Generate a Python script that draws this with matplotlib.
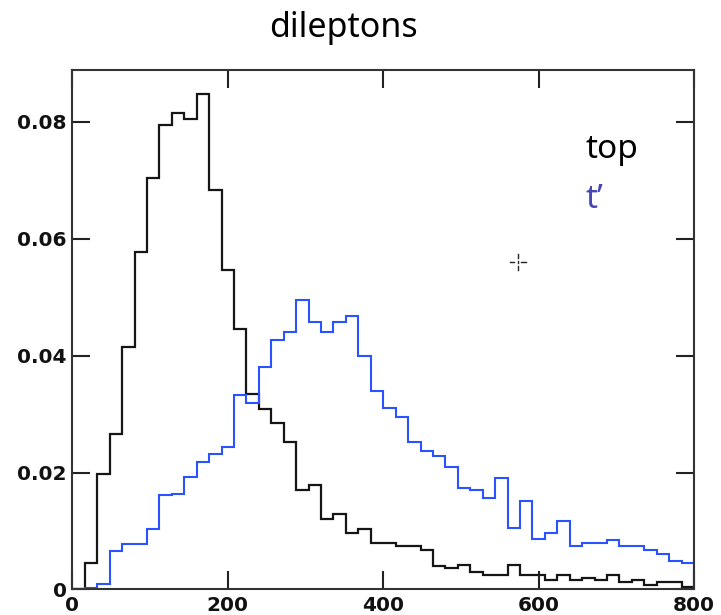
"""
Dilepton mass distributions: top vs t' (step histograms).
"""

import matplotlib

matplotlib.use("Agg")

import matplotlib.pyplot as plt
import numpy as np

# ============================================================
# Data (50 bins of width 16 between 0 and 800)
# ============================================================

bin_lo = 0
bin_hi = 800
bin_width = 16

top_values = [
    0.0, 0.0045, 0.0198, 0.0266, 0.0415, 0.0578, 0.0704, 0.0795, 0.0815, 0.0805,
    0.0847, 0.0684, 0.0547, 0.0445, 0.0335, 0.0308, 0.0285, 0.0252, 0.0170, 0.0179,
    0.0121, 0.0129, 0.0097, 0.0103, 0.0080, 0.0080, 0.0074, 0.0074, 0.0068, 0.0040,
    0.0037, 0.0042, 0.0030, 0.0024, 0.0024, 0.0042, 0.0024, 0.0024, 0.0017, 0.0024,
    0.0017, 0.0020, 0.0017, 0.0024, 0.0013, 0.0017, 0.0007, 0.0013, 0.0013, 0.0004,
]

tprime_values = [
    0.0, 0.0003, 0.0010, 0.0066, 0.0077, 0.0077, 0.0103, 0.0161, 0.0164, 0.0193,
    0.0218, 0.0231, 0.0244, 0.0333, 0.0319, 0.0380, 0.0426, 0.0441, 0.0495, 0.0457,
    0.0441, 0.0457, 0.0468, 0.0399, 0.0340, 0.0310, 0.0295, 0.0252, 0.0237, 0.0228,
    0.0209, 0.0173, 0.0170, 0.0157, 0.0191, 0.0106, 0.0151, 0.0087, 0.0097, 0.0117,
    0.0074, 0.0079, 0.0079, 0.0084, 0.0074, 0.0074, 0.0068, 0.0060, 0.0049, 0.0045,
]

x_ticks = [0, 200, 400, 600, 800]
y_ticks = [0, 0.02, 0.04, 0.06, 0.08]
y_tick_labels = ["0", "0.02", "0.04", "0.06", "0.08"]

title = "dileptons"
label_top = "top"
label_tprime = "t\u2019"

# ============================================================
# Figure
# ============================================================

fig = plt.figure(figsize=(7.21, 6.15), dpi=100)
ax = fig.add_axes([0.1005, 0.0415, 0.862, 0.8439])

edges = np.arange(bin_lo, bin_hi + bin_width, bin_width)

ax.stairs(
    top_values,
    edges,
    color="#151515",
    linewidth=1.6,
)

ax.stairs(
    tprime_values,
    edges,
    color="#2b52ff",
    linewidth=1.5,
)

ax.set_xlim(bin_lo, bin_hi)
ax.set_ylim(0, 0.0888)

ax.set_xticks(x_ticks)
ax.set_yticks(y_ticks)
ax.set_yticklabels(y_tick_labels)

for lbl in ax.get_xticklabels() + ax.get_yticklabels():
    lbl.set_fontfamily("DejaVu Sans")
    lbl.set_fontweight("bold")
    lbl.set_fontsize(14.5)
    lbl.set_color("#111111")

ax.tick_params(
    direction="in",
    length=13,
    width=1.5,
    top=True,
    right=True,
    color="#222222",
)
ax.tick_params(axis="x", pad=5)
ax.tick_params(axis="y", pad=4)

for spine in ax.spines.values():
    spine.set_linewidth(1.5)
    spine.set_color("#333333")

# labels inside the frame
ax.text(
    660,
    0.0738,
    label_top,
    fontsize=24,
    family="Noto Sans",
    color="black",
    va="baseline",
)
ax.text(
    660,
    0.0653,
    label_tprime,
    fontsize=24,
    family="Noto Sans",
    color="#4646b4",
    va="baseline",
)

# small cursor cross left in the screenshot
cx, cy = 0.717, 0.631
ax.plot([cx - 0.013, cx - 0.007], [cy, cy], transform=ax.transAxes, color="#222222", lw=1)
ax.plot([cx + 0.005, cx + 0.013], [cy, cy], transform=ax.transAxes, color="#222222", lw=1)
ax.plot([cx, cx], [cy + 0.008, cy + 0.016], transform=ax.transAxes, color="#222222", lw=1)
ax.plot([cx, cx], [cy - 0.008, cy - 0.016], transform=ax.transAxes, color="#222222", lw=1)
ax.plot([cx, cx], [cy - 0.001, cy + 0.001], transform=ax.transAxes, color="#222222", lw=1)

fig.text(
    0.477,
    0.954,
    title,
    fontsize=24.5,
    family="Noto Sans",
    ha="center",
    va="center",
)

fig.savefig("out.png", dpi=100)
